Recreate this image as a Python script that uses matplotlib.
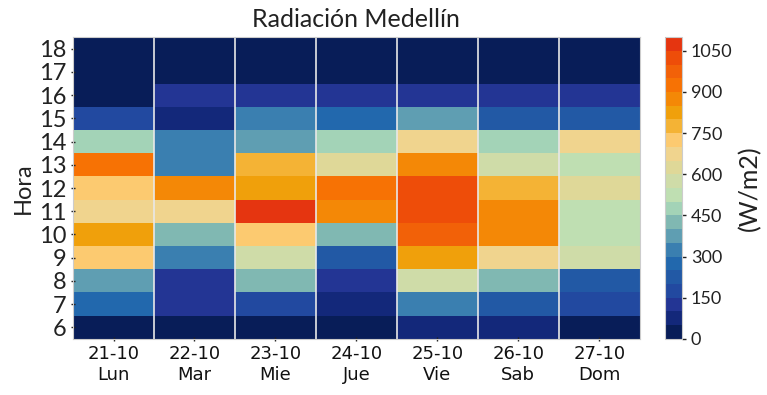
import numpy as np
import matplotlib
matplotlib.use('Agg')
import matplotlib.pyplot as plt
from matplotlib.colors import ListedColormap, BoundaryNorm

## hours (rows) and days (columns)
horas = list(range(6, 19))
dias = ['21-10\nLun', '22-10\nMar', '23-10\nMie', '24-10\nJue', '25-10\nVie', '26-10\nSab', '27-10\nDom']

# radiation per hour (6..18) for each day, W/m2
lun = [25, 275, 375, 725, 825, 675, 725, 925, 475, 175, 25, 0, 0]
mar = [25, 125, 125, 325, 425, 675, 875, 325, 325, 75, 125, 0, 0]
mie = [25, 175, 425, 575, 725, 1075, 825, 775, 375, 325, 125, 0, 0]
jue = [25, 75, 125, 225, 425, 875, 925, 625, 475, 275, 125, 0, 0]
vie = [75, 325, 575, 825, 975, 1025, 1025, 875, 675, 375, 125, 0, 0]
sab = [75, 225, 425, 675, 875, 875, 775, 575, 475, 225, 125, 0, 0]
dom = [25, 175, 225, 575, 525, 525, 625, 525, 675, 225, 125, 0, 0]

colores = ['#081d58', '#13287a', '#233594', '#2249a0', '#2259a5', '#2268ad',
           '#3a7fb0', '#5f9eb2', '#80b8b2', '#a3d3b7', '#bfdfb2', '#cfdca8',
           '#dfd898', '#f0d48e', '#fcca70', '#f4b335', '#f0a00b', '#f48806',
           '#f77204', '#f26108', '#ee4d09', '#e53510']
niveles = np.arange(0, 1101, 50)

datos = np.array([lun, mar, mie, jue, vie, sab, dom]).T

cmap = ListedColormap(colores)
norm = BoundaryNorm(niveles, cmap.N)

fig = plt.figure(figsize=(7.67, 3.95), dpi=100)
ax = fig.add_axes([0.0952, 0.142, 0.739, 0.764])
cax = fig.add_axes([0.867, 0.142, 0.022, 0.764])

x = np.arange(len(dias) + 1)
y = np.arange(horas[0] - 0.5, horas[-1] + 1)
mesh = ax.pcolormesh(x, y, datos, cmap=cmap, norm=norm)
for xi in range(1, len(dias)):
    ax.axvline(xi, color='#e8e8e8', linewidth=1.2)

ax.set_xlim(0, len(dias))
ax.set_ylim(y[0], y[-1])
ax.set_xticks(np.arange(len(dias)) + 0.5)
ax.set_xticklabels(dias, family='DejaVu Sans', fontsize=13, color='#111111')
ax.set_yticks(horas)
ax.set_yticklabels([str(h) for h in horas], family='Lato', fontsize=17, color='#222222')
ax.tick_params(axis='both', length=3, width=1, color='#222222', direction='inout', pad=3)
for s in ax.spines.values():
    s.set_color('#cccccc')
ax.set_ylabel('Hora', family='Lato', fontsize=17, color='#222222', labelpad=4)
ax.set_title('Radiación Medellín', family='Lato', fontsize=18, color='#222222', pad=7)

cb = fig.colorbar(mesh, cax=cax, ticks=np.arange(0, 1051, 150))
cb.minorticks_off()
cb.outline.set_edgecolor('#cccccc')
cb.ax.tick_params(length=3, width=1, color='#222222', labelsize=13)
for t in cb.ax.get_yticklabels():
    t.set_family('Lato')
    t.set_color('#222222')
cb.set_label('(W/m2)', family='Lato', fontsize=18, color='#222222', labelpad=4)

fig.savefig('out.png', dpi=100)
